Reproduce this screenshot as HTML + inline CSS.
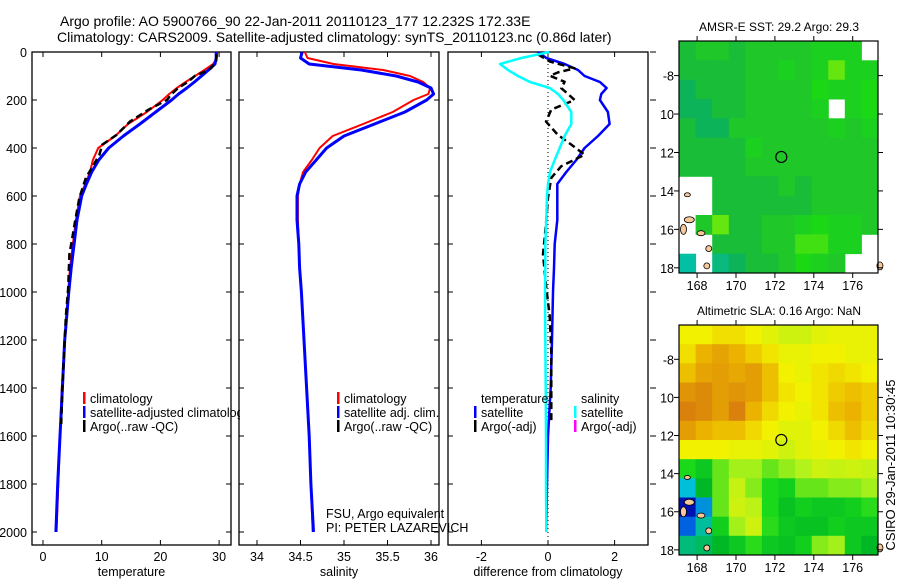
<!DOCTYPE html>
<html><head><meta charset="utf-8"><style>
body{margin:0;background:#fff;}
svg{display:block;font-family:"Liberation Sans",sans-serif;}
</style></head><body>
<svg id="chart" width="900" height="580" xmlns="http://www.w3.org/2000/svg">
<defs><clipPath id="clipP1"><rect x="32" y="52" width="208" height="493"/></clipPath></defs>
</svg>
<script>
const depths=[0,25,50,75,100,125,150,175,200,250,300,350,400,450,500,550,600,700,800,900,1000,1200,1400,1600,1800,2000];
const climT=[29.7,29.6,29.0,27.5,25.9,24.3,22.8,21.5,20.4,17.7,14.5,12.3,9.4,8.5,8.0,7.2,6.3,5.6,5.1,4.6,4.3,3.7,3.2,2.9,2.6,2.3];
const satT=[29.5,29.5,29.3,28.2,27.0,25.8,24.5,23.1,21.9,19.2,16.5,13.7,11.2,9.5,8.3,7.4,6.6,5.8,5.3,4.8,4.4,3.7,3.3,2.9,2.5,2.2];
const argoDepths=[10,40,68,85,99,124,151,175,200,240,290,346,386,428,476,524,607,700,774,843,983,1100,1250,1400,1550];
const argoT=[29.5,29.5,28.6,27.3,25.9,24.7,23.0,21.9,21.1,18.0,14.8,12.5,10.1,9.6,8.5,7.3,6.2,5.5,5.0,4.5,4.3,3.9,3.6,3.3,3.1];
const climS=[34.55,34.58,34.88,35.45,35.76,35.91,35.99,35.97,35.80,35.56,35.22,34.87,34.72,34.63,34.53,34.49,34.47,34.47,34.48,34.49,34.51,34.54,34.57,34.60,34.62,34.64];
const satS=[34.52,34.50,34.60,35.20,35.60,35.85,36.00,36.03,35.95,35.70,35.35,35.00,34.80,34.68,34.56,34.49,34.46,34.46,34.48,34.49,34.51,34.54,34.57,34.60,34.62,34.65];
const tDiff=[-0.3,-0.05,0.5,0.9,1.1,1.56,1.76,1.6,1.56,1.8,1.85,1.5,1.1,0.85,0.55,0.28,0.28,0.28,0.2,0.18,0.15,0.12,0.08,0.0,-0.03,-0.05];
const sDiff=[0.04,-0.8,-1.44,-1.2,-0.9,-0.54,0.05,0.3,0.46,0.7,0.7,0.5,0.35,0.2,0.06,0.0,-0.03,-0.05,-0.08,-0.08,-0.09,-0.08,-0.07,-0.06,-0.06,-0.05];
const argoDiff=[-0.3,0.06,0.8,0.3,0.06,0.5,0.4,0.6,0.8,0.1,-0.06,0.3,0.7,1.1,0.4,0.1,0.0,-0.05,-0.1,-0.15,-0.05,0.05,0.1,0.1,0.1];
const depthTicks=[0,200,400,600,800,1000,1200,1400,1600,1800,2000];
const tTicks=[0,10,20,30];
const sTicks=[34,34.5,35,35.5,36];
const dTicks=[-2,0,2];
const lonTicks=[168,170,172,174,176];
const latTicks=[-8,-10,-12,-14,-16,-18];
const latLabels=["-8","10","12","14","16","18"];
const sstGrid=[
[29.0,29.1,29.1,29.0,29.1,29.1,29.1,29.1,29.2,29.2,29.2,null],
[29.0,29.0,29.0,29.0,29.1,29.1,29.2,29.1,29.2,29.5,29.2,29.2],
[28.9,29.0,29.0,29.0,29.1,29.1,29.1,29.1,29.3,29.2,29.2,29.3],
[28.9,28.9,29.0,29.0,29.1,29.1,29.1,29.1,29.2,null,29.2,29.3],
[29.0,28.9,28.9,29.1,29.1,29.1,29.1,29.1,29.1,29.2,29.1,29.2],
[29.0,29.0,29.0,29.0,29.2,29.1,29.1,29.1,29.1,29.1,29.1,29.1],
[29.0,29.0,29.0,29.0,29.1,29.1,29.1,29.1,29.1,29.1,29.1,29.1],
[null,null,29.0,29.0,29.0,29.0,29.1,29.0,29.1,29.1,29.1,29.1],
[null,null,29.0,29.0,29.0,29.0,29.0,29.0,29.1,29.1,29.1,29.1],
[null,29.1,29.5,29.0,29.0,29.1,29.1,29.2,29.3,29.2,29.2,29.1],
[null,null,29.0,29.0,29.0,29.1,29.1,29.4,29.4,29.2,29.2,null],
[28.7,null,28.8,28.9,29.0,29.0,29.1,29.3,29.2,29.1,null,null]];
const slaGrid=[
[0.72,0.72,0.75,0.75,0.72,0.7,0.68,0.68,0.7,0.71,0.71,0.71],
[0.75,0.82,0.85,0.82,0.78,0.74,0.71,0.71,0.72,0.72,0.71,0.71],
[0.8,0.85,0.86,0.84,0.86,0.8,0.72,0.71,0.74,0.76,0.74,0.72],
[0.88,0.9,0.86,0.88,0.86,0.8,0.74,0.72,0.74,0.78,0.8,0.78],
[0.92,0.9,0.86,0.92,0.82,0.76,0.72,0.71,0.74,0.8,0.82,0.78],
[0.86,0.82,0.8,0.8,0.76,0.72,0.7,0.7,0.72,0.76,0.8,0.76],
[0.72,0.72,0.72,0.71,0.71,0.7,0.68,0.7,0.71,0.72,0.74,0.72],
[0.55,0.5,0.6,0.64,0.64,0.6,0.63,0.65,0.68,0.67,0.68,0.67],
[0.3,0.45,0.6,0.67,0.62,0.55,0.52,0.6,0.6,0.62,0.62,0.64],
[0.05,0.25,0.6,0.68,0.66,0.55,0.48,0.52,0.5,0.5,0.52,0.56],
[0.2,0.35,0.52,0.64,0.68,0.56,0.5,0.48,0.48,0.52,0.5,0.5],
[0.38,0.4,0.45,0.5,0.56,0.5,0.48,0.52,0.62,0.64,0.5,0.45]];
const floatLon=172.33, floatLat=-12.232;

const svg=document.getElementById('chart');
const NS='http://www.w3.org/2000/svg';
function el(tag,attrs,parent){const e=document.createElementNS(NS,tag);for(const k in attrs)e.setAttribute(k,attrs[k]);(parent||svg).appendChild(e);return e;}
function txt(x,y,s,size,anchor,parent){const t=el('text',{x:x,y:y,'font-size':size,'text-anchor':anchor||'start',fill:'#000'},parent);t.textContent=s;return t;}

const Y0=52,Ybot=545,yd=d=>Y0+d*0.24;
const panels=[
 {x0:32,x1:231,fx:v=>43+v*5.87,ticks:tTicks,label:'temperature',name:'temperature-panel'},
 {x0:239,x1:439,fx:v=>257+(v-34)*87,ticks:sTicks,label:'salinity',name:'salinity-panel'},
 {x0:448,x1:648,fx:v=>548+v*33.3,ticks:dTicks,label:'difference from climatology',name:'difference-panel'}];

let t=txt(60,26,'Argo profile: AO 5900766_90 22-Jan-2011 20110123_177 12.232S 172.33E',14);

t=txt(57,42,'Climatology: CARS2009. Satellite-adjusted climatology: synTS_20110123.nc (0.86d later)',14);


panels.forEach((p,pi)=>{
 const g=el('g',{});
 
 
 el('rect',{x:p.x0,y:Y0,width:p.x1-p.x0,height:Ybot-Y0,fill:'none',stroke:'#000','stroke-width':1.3},g);
 depthTicks.forEach(d=>{
  el('line',{x1:p.x0,x2:p.x0+5,y1:yd(d),y2:yd(d),stroke:'#000'},g);
  if(pi<2) el('line',{x1:p.x1,x2:p.x1-5,y1:yd(d),y2:yd(d),stroke:'#000'},g);
  else el('line',{x1:p.x1+2,x2:p.x1+8,y1:yd(d),y2:yd(d),stroke:'#000'},g);
  if(pi==0){const l=txt(27,yd(d)+5,String(d),12.5,'end',g);}
 });
 p.ticks.forEach(v=>{
  const x=p.fx(v);
  el('line',{x1:x,x2:x,y1:Ybot,y2:Ybot-5,stroke:'#000'},g);
  el('line',{x1:x,x2:x,y1:Y0,y2:Y0+5,stroke:'#000'},g);
  const l=txt(x,561,String(v),12.5,'middle',g);
  
 });
 const al=txt((p.x0+p.x1)/2,576,p.label,12.5,'middle',g);
 
});

function line(xs,ds,fx,color,w,dash,name){
 const pts=xs.map((v,i)=>fx(v).toFixed(1)+','+yd(ds[i]).toFixed(1)).join(' ');
 const a={points:pts,fill:'none',stroke:color,'stroke-width':w,'stroke-linejoin':'round'};
 if(dash)a['stroke-dasharray']=dash;
 const e=el('polyline',a);
 
 
}
const P=panels;
line(climT,depths,P[0].fx,'#ff0000',2,null,'temperature-climatology-line');
line(satT,depths,P[0].fx,'#0000ff',3,null,'temperature-satellite-line');
line(argoT,argoDepths,P[0].fx,'#000',2.5,'7,4','temperature-argo-line');
line(climS,depths,P[1].fx,'#ff0000',2,null,'salinity-climatology-line');
line(satS,depths,P[1].fx,'#0000ff',3,null,'salinity-satellite-line');
const zl=el('line',{x1:P[2].fx(0),x2:P[2].fx(0),y1:Y0,y2:Ybot,stroke:'#000','stroke-dasharray':'1,3'});

line(tDiff,depths,P[2].fx,'#0000ff',2.5,null,'temperature-difference-line');
line(argoDiff,argoDepths,P[2].fx,'#000',2.5,'7,4','argo-difference-line');
line(sDiff,depths,P[2].fx,'#00ffff',2.5,null,'salinity-difference-line');

function legend(x,y,color,label,name,clip){
 const g=el('g',{});
 
 
 if(clip) g.setAttribute('clip-path','url(#clipP1)');
 if(color) el('rect',{x:x-7,y:y-11,width:2.5,height:12,fill:color},g);
 txt(x,y,label,12.5,'start',g);
}
legend(90,403,'#ff0000','climatology','legend-climatology');
legend(90,417,'#0000ff','satellite-adjusted climatology','legend-satellite',true);
legend(90,431,'#000','Argo(..raw -QC)','legend-argo');
legend(344,403,'#ff0000','climatology','legend-climatology-s');
legend(344,417,'#0000ff','satellite adj. clim.','legend-satellite-s');
legend(344,431,'#000','Argo(..raw -QC)','legend-argo-s');
legend(481,403,null,'temperature','legend-temperature-header');
legend(481,417,'#0000ff','satellite','legend-temp-satellite');
legend(481,431,'#000','Argo(-adj)','legend-temp-argo');
legend(581,403,null,'salinity','legend-salinity-header');
legend(581,417,'#00ffff','satellite','legend-sal-satellite');
legend(581,431,'#ff00ff','Argo(-adj)','legend-sal-argo');
t=txt(326,518,'FSU, Argo equivalent',12.5);
t=txt(326,532,'PI: PETER LAZAREVICH',12.5);

function cmap(stops,v){
 if(v<=stops[0][0])return stops[0][1];
 for(let i=1;i<stops.length;i++){if(v<=stops[i][0]){const a=stops[i-1],b=stops[i],f=(v-a[0])/(b[0]-a[0]);
  return a[1].map((c,k)=>c+(b[1][k]-c)*f);}}
 return stops[stops.length-1][1];
}
const sstStops=[[28.6,[0,0.78,0.78]],[28.9,[0.05,0.7,0.35]],[29.0,[0.1,0.74,0.22]],[29.1,[0.12,0.78,0.16]],[29.3,[0.1,0.85,0.08]],[29.6,[0.55,0.93,0.05]]];
const slaStops=[[0,[0,0,0.6]],[0.15,[0,0.2,0.9]],[0.3,[0,0.75,0.85]],[0.45,[0,0.72,0.15]],[0.55,[0.1,0.85,0.1]],[0.65,[0.7,0.95,0.1]],[0.72,[0.95,0.95,0]],[0.82,[0.92,0.7,0]],[0.92,[0.85,0.5,0.05]],[1,[0.75,0.35,0.05]]];
function rgb(c){return 'rgb('+c.map(v=>Math.round(v*255)).join(',')+')';}
function drawMap(top,bottom,grid,stops,title,name,cellName){
 const X0=679,X1=878,lon0=167.07,lon1=177.3,lat0=-6.2,lat1=-18.27;
 const fx=lon=>X0+(lon-lon0)/(lon1-lon0)*(X1-X0);
 const fy=lat=>top+(lat-lat0)/(lat1-lat0)*(bottom-top);
 const g=el('g',{});
 
 
 const rows=grid.length,cols=grid[0].length;
 const dLon=(lon1-lon0)/cols,dLat=(lat1-lat0)/rows;
 grid.forEach((row,r)=>row.forEach((v,c)=>{
  if(v===null)return;
  const x=fx(lon0+c*dLon),y=fy(lat0+r*dLat);
  const cell=el('rect',{x:x.toFixed(1),y:y.toFixed(1),width:(fx(lon0+(c+1)*dLon)-x+0.5).toFixed(1),height:(fy(lat0+(r+1)*dLat)-y+0.5).toFixed(1),fill:rgb(cmap(stops,v))},g);
  
  
 }));
 [[167.6,-15.5,5,3],[168.2,-16.2,4,2.5],[167.3,-16.0,3,5],[168.6,-17.0,3,3],[168.5,-17.9,3,3],[167.5,-14.2,3,2],[177.4,-17.9,3,4]].forEach(a=>{
  const e=el('ellipse',{cx:fx(a[0]),cy:fy(a[1]),rx:a[2],ry:a[3],fill:'#f8c898',stroke:'#000','stroke-width':0.8},g);
  
 });
 el('rect',{x:X0,y:top,width:X1-X0,height:bottom-top,fill:'none',stroke:'#000','stroke-width':1.2},g);
 lonTicks.forEach(l=>{const x=fx(l);el('line',{x1:x,x2:x,y1:top,y2:top-5,stroke:'#000'},g);el('line',{x1:x,x2:x,y1:bottom,y2:bottom+5,stroke:'#000'},g);
  const lb=txt(x,bottom+17,String(l),12.5,'middle',g);});
 latTicks.forEach((l,i)=>{const y=fy(l);el('line',{x1:X0,x2:X0-5,y1:y,y2:y,stroke:'#000'},g);el('line',{x1:X1,x2:X1+5,y1:y,y2:y,stroke:'#000'},g);
  const lb=txt(674,y+5,latLabels[i],12.5,'end',g);});
 const m=el('circle',{cx:fx(floatLon),cy:fy(floatLat),r:5.5,fill:'none',stroke:'#000','stroke-width':1.2},g);
 
 const tt=txt(779,top-10,title,12,'middle',g);
 
}
drawMap(41,273,sstGrid,sstStops,'AMSR-E SST: 29.2 Argo: 29.3','sst-map','sst-cell');
drawMap(325,555,slaGrid,slaStops,'Altimetric SLA: 0.16 Argo: NaN','sla-map','sla-cell');
const st=txt(0,0,'CSIRO 29-Jan-2011 10:30:45',13,'middle');
st.setAttribute('transform','translate(895,465) rotate(-90)');


</script>
</body></html>
